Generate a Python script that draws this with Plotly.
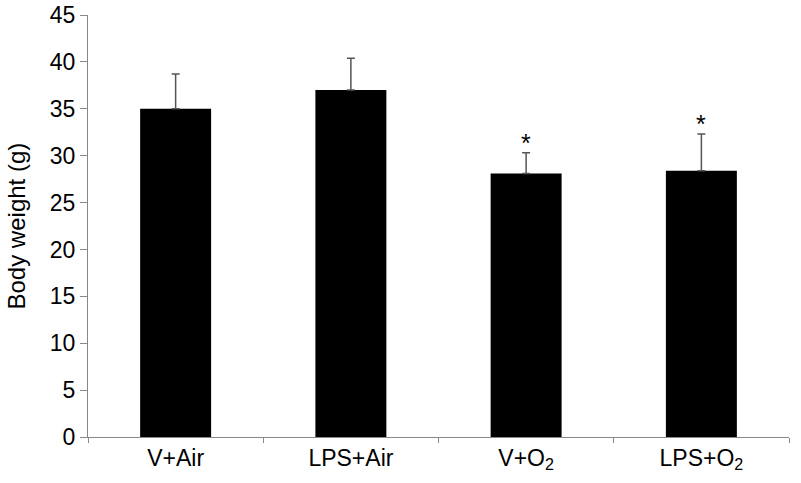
import plotly.graph_objects as go

categories = ["V+Air", "LPS+Air", "V+O<sub>2</sub>", "LPS+O<sub>2</sub>"]
means = [35.0, 37.0, 28.1, 28.4]
errors = [3.7, 3.4, 2.2, 3.9]
significance = ["", "", "*", "*"]
y_ticks = [0, 5, 10, 15, 20, 25, 30, 35, 40, 45]
y_title = "Body weight (g)"

fig = go.Figure()
fig.add_trace(go.Bar(
    x=categories, y=means,
    marker=dict(color="black", line=dict(width=0)),
    width=0.405,
    error_y=dict(type="data", array=errors, symmetric=False, arrayminus=[0]*4,
                 color="#555555", thickness=1.5, width=4),
))
for c, m, e, s in zip(categories, means, errors, significance):
    if s:
        fig.add_annotation(x=c, y=m + e, text=s, showarrow=False, yshift=10,
                           font=dict(size=25, color="black"))

fig.add_annotation(xref="paper", yref="paper", x=-0.102, y=0.5, text=y_title,
                   textangle=-90, showarrow=False, xanchor="center", yanchor="middle",
                   font=dict(size=24, color="black"))

fig.update_layout(
    width=801, height=483,
    margin=dict(l=88, r=12, t=15, b=46),
    plot_bgcolor="white", paper_bgcolor="white",
    font=dict(family="Liberation Sans, Arial, sans-serif", size=23, color="black"),
    showlegend=False,
)
fig.update_xaxes(
    showline=True, linecolor="#888888", linewidth=1,
    ticks="outside", tickson="boundaries", ticklen=5, tickcolor="#888888",
    showgrid=False, tickfont=dict(size=23), automargin=False,
)
fig.update_yaxes(
    range=[0, 45], tickvals=y_ticks, showline=True, linecolor="#888888", linewidth=1,
    ticks="outside", ticklen=7, tickcolor="#888888", showgrid=False, zeroline=False,
    tickfont=dict(size=23), automargin=False,
)
fig.write_html("out.html", config={"displayModeBar": False},
               post_script="document.body.style.margin='0';")
